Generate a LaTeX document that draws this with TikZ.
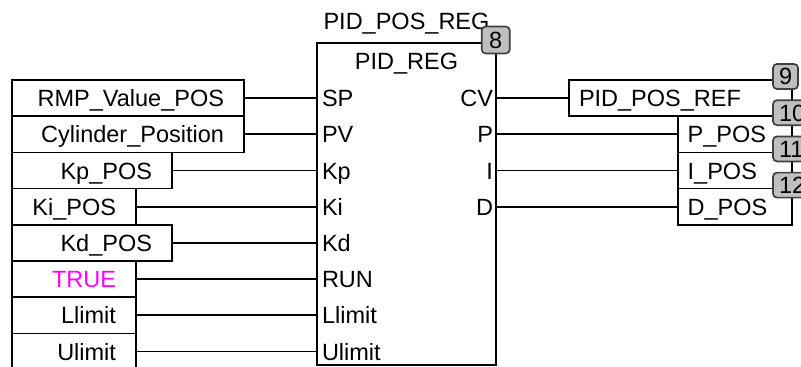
\documentclass[tikz,border=0pt]{standalone}
\usepackage{fontspec}
\setmainfont{Liberation Sans}
\usetikzlibrary{positioning}
\definecolor{constmag}{RGB}{255,0,255}
\newcommand\toprow{80}
\newcommand\rowh{36.2}
\newcommand\inx{12}
\newcommand\outx{677.7}

\begin{document}
\begin{tikzpicture}[x=1pt, y=-1pt, line width=1.7pt,
    every node/.style={font=\fontsize{23.5}{28}\selectfont, text height=18pt, text depth=1pt, outer sep=0pt},
    invar/.style={draw, anchor=north west, minimum height=\rowh pt, inner xsep=20pt, text width=#1, align=right},
    outvar/.style={draw, anchor=north west, minimum height=\rowh pt, inner xsep=10pt, text width=#1, align=left},
    pin/.style={inner xsep=5pt, inner ysep=0pt},
    badge/.style={draw=black!75, fill=black!25, rounded corners=4pt, anchor=west, minimum height=25pt, inner xsep=6pt, text height=16.8pt, text depth=0pt}]

    \clip (0, 0) rectangle (801, 367);

    % Input variables
    \node at (\inx, \toprow) [invar=192pt] (rmp) {RMP\_Value\_POS};
    \node at (\inx, \toprow + \rowh) [invar=192pt] (cylpos) {Cylinder\_Position};
    \node at (\inx, \toprow + 2*\rowh) [invar=120pt] (kpvar) {Kp\_POS};
    \node at (\inx, \toprow + 3*\rowh) [invar=84pt] (kivar) {Ki\_POS};
    \node at (\inx, \toprow + 4*\rowh) [invar=120pt] (kdvar) {Kd\_POS};
    \node at (\inx, \toprow + 5*\rowh) [invar=84pt, text=constmag] (truevar) {TRUE};
    \node at (\inx, \toprow + 6*\rowh) [invar=84pt] (llimvar) {Llimit};
    \node at (\inx, \toprow + 7*\rowh) [invar=84pt] (ulimvar) {Ulimit};

    % Function block
    \node at (317, 43.3) [draw, anchor=north west, minimum width=179pt, minimum height=321.7pt] (pid) {};
    \node [above=13pt of pid.north, inner sep=0pt] (inst) {PID\_POS\_REG};
    \node [below=8pt of pid.north, inner sep=0pt] (fbname) {PID\_REG};

    \node at (pid.west |- rmp.east) [pin, anchor=west] (sp) {SP};
    \node at (pid.west |- cylpos.east) [pin, anchor=west] (pv) {PV};
    \node at (pid.west |- kpvar.east) [pin, anchor=west] (kp) {Kp};
    \node at (pid.west |- kivar.east) [pin, anchor=west] (ki) {Ki};
    \node at (pid.west |- kdvar.east) [pin, anchor=west] (kd) {Kd};
    \node at (pid.west |- truevar.east) [pin, anchor=west] (run) {RUN};
    \node at (pid.west |- llimvar.east) [pin, anchor=west] (llim) {Llimit};
    \node at (pid.west |- ulimvar.east) [pin, anchor=west] (ulim) {Ulimit};

    \node at (pid.east |- rmp.east) [pin, anchor=east, inner xsep=3pt] (cv) {CV};
    \node at (pid.east |- cylpos.east) [pin, anchor=east, inner xsep=3pt] (pout) {P};
    \node at (pid.east |- kpvar.east) [pin, anchor=east, inner xsep=3pt] (iout) {I};
    \node at (pid.east |- kivar.east) [pin, anchor=east, inner xsep=3pt] (dout) {D};

    % Output variables
    \node at (569, \toprow) [outvar=202.7pt] (ref) {PID\_POS\_REF};
    \node at (\outx, \toprow + \rowh) [outvar=94pt] (ppos) {P\_POS};
    \node at (\outx, \toprow + 2*\rowh) [outvar=94pt] (ipos) {I\_POS};
    \node at (\outx, \toprow + 3*\rowh) [outvar=94pt] (dpos) {D\_POS};

    % Execution order
    \node at ([xshift=-14.3pt, yshift=3.3pt] pid.north east) [badge, inner xsep=7.5pt, minimum height=27pt] (b8) {8};
    \node at ([xshift=-18.7pt, yshift=3.5pt] ref.north east) [badge] (b9) {9};
    \node at ([xshift=-18.7pt, yshift=3.5pt] ppos.north east) [badge] (b10) {10};
    \node at ([xshift=-18.7pt, yshift=3.5pt] ipos.north east) [badge] (b11) {11};
    \node at ([xshift=-18.7pt, yshift=3.5pt] dpos.north east) [badge] (b12) {12};

    \draw (rmp.east) -- (sp.west);
    \draw (cylpos.east) -- (pv.west);
    \draw (kpvar.east) -- (kp.west);
    \draw (kivar.east) -- (ki.west);
    \draw (kdvar.east) -- (kd.west);
    \draw (truevar.east) -- (run.west);
    \draw (llimvar.east) -- (llim.west);
    \draw (ulimvar.east) -- (ulim.west);

    \draw (cv.east) -- (ref.west);
    \draw (pout.east) -- (ppos.west);
    \draw (iout.east) -- (ipos.west);
    \draw (dout.east) -- (dpos.west);

\end{tikzpicture}
\end{document}
